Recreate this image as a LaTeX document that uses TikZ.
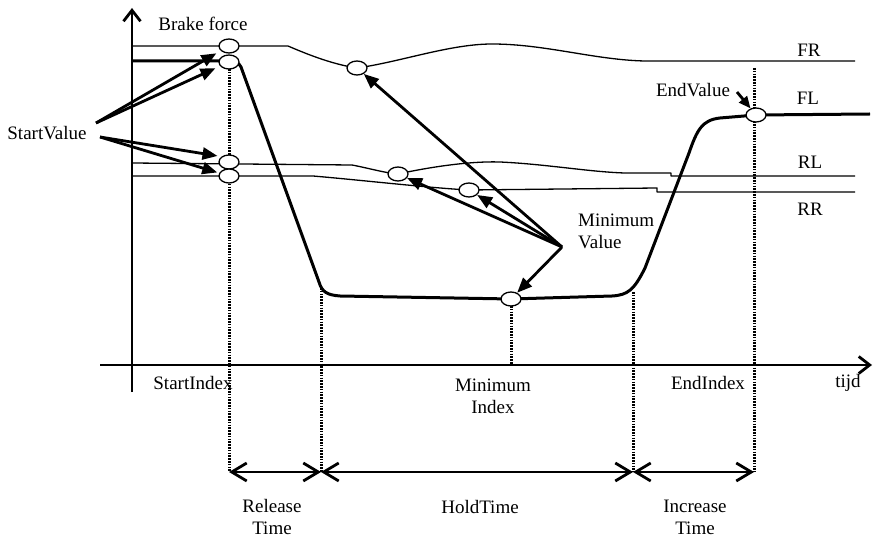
\documentclass[tikz,border=0pt]{standalone}
\usepackage{fontspec}
\setmainfont{Liberation Serif}
\usetikzlibrary{arrows.meta,shapes.geometric}
\begin{document}
\begin{tikzpicture}[x=1pt,y=-1pt,
  lbl/.style={font=\fontsize{19}{22}\selectfont, inner sep=0pt},
  thinline/.style={line width=1.3pt, line join=round},
  thickline/.style={line width=3pt, line join=round},
  axis/.style={line width=2.8pt, -{Straight Barb[length=11pt,width=17pt]}},
  guide/.style={line width=3pt, dash pattern=on 1.6pt off 1.2pt},
  span/.style={line width=2.8pt, {Straight Barb[length=15pt,width=18pt]}-{Straight Barb[length=15pt,width=18pt]}},
  pointer/.style={line width=2.8pt, -{Triangle[length=15pt,width=12pt]}},
  marker/.style={ellipse, draw, line width=1.3pt, fill=white, minimum width=20pt, minimum height=14pt, inner sep=0pt}
]
\path[use as bounding box, fill=white] (0,0) rectangle (873,537);

% axes
\coordinate (yb) at (132,392);
\coordinate (yt) at (132,8);
\coordinate (xl) at (100,365);
\coordinate (xr) at (872,365);
\draw[axis] (yb) -- (yt);
\draw[axis] (xl) -- (xr);

% FR
\draw[thinline] (132,46) -- (288,46) .. controls (302,52) and (330,64) .. (357,68)
  .. controls (400,62) and (450,44) .. (492,44) .. controls (545,44) and (595,60) .. (645,61) -- (855,61);
% RL
\draw[thinline] (132,163) -- (352,165) .. controls (368,168) and (385,173) .. (398,174)
  .. controls (430,167) and (470,161) .. (500,162) .. controls (545,164) and (590,172) .. (625,173)
  -- (671,173) -- (671,176) -- (855,176);
% RR
\draw[thinline] (132,176) -- (313,176) .. controls (360,180) and (430,188) .. (469,190)
  -- (657,188) -- (657,192) -- (855,192);
% FL
\draw[thickline] (132,61) -- (229,61) .. controls (236,61) and (239,63) .. (241,67) -- (319,282)
  .. controls (322,292) and (327,295) .. (340,296) -- (511,299) -- (612,296)
  .. controls (628,295) and (634,290) .. (645,268) -- (689,153)
  .. controls (697,130) and (702,120) .. (720,118) -- (756,115) -- (870,114);

% index guides
\coordinate (gS) at (229,472);
\coordinate (gR) at (321,472);
\coordinate (gM) at (511,365);
\coordinate (gH) at (633,472);
\coordinate (gE) at (754,472);
\draw[guide] (229,69) -- (gS);
\draw[guide] (321,288) -- (gR);
\draw[guide] (511,306) -- (gM);
\draw[guide] (633,292) -- (gH);
\draw[guide] (754,68) -- (gE);

% markers
\node[marker] (fr0) at (229,46) {};
\node[marker] (fl0) at (229,62) {};
\node[marker] (rl0) at (229,162) {};
\node[marker] (rr0) at (229,176) {};
\node[marker] (frm) at (357,68) {};
\node[marker] (rlm) at (398,174) {};
\node[marker] (rrm) at (469,190) {};
\node[marker] (flm) at (511,299) {};
\node[marker] (fle) at (756,115) {};

% spans
\draw[span] (gS) -- (gR);
\draw[span] (gR) -- (gH);
\draw[span] (gH) -- (gE);

% labels
\node[lbl] (brake) at (203,24) {Brake force};
\node[lbl] (sv) at (47,133) {StartValue};
\node[lbl] at (809,50) {FR};
\node[lbl] at (808,98) {FL};
\node[lbl] at (810,162) {RL};
\node[lbl] at (810,209) {RR};
\node[lbl] (ev) at (693,90) {EndValue};
\node[lbl, align=left, anchor=west] (mv) at (578,231) {Minimum\\Value};
\node[lbl] at (193,383) {StartIndex};
\node[lbl, align=center] at (493,396) {Minimum\\Index};
\node[lbl] at (708,383) {EndIndex};
\node[lbl] at (848,383) {tijd};
\node[lbl, align=center] at (272,517) {Release\\Time};
\node[lbl] at (480,507) {HoldTime};
\node[lbl, align=center] at (695,517) {Increase\\Time};

% pointers
\coordinate (svA) at (96,123);
\coordinate (svB) at (100,137);
\coordinate (mvP) at (562,247);
\coordinate (evP) at (737,92);
\draw[pointer, shorten >=5pt] (svA) -- (fr0);
\draw[pointer, shorten >=5pt] (svA) -- (fl0);
\draw[pointer, shorten >=4pt] (svB) -- (rl0.north west);
\draw[pointer, shorten >=2pt] (svB) -- (rr0);
\draw[pointer] (mvP) -- (frm);
\draw[pointer] (mvP) -- (rlm);
\draw[pointer] (mvP) -- (rrm);
\draw[pointer] (mvP) -- (flm);
\draw[pointer, -{Triangle[length=12pt,width=10pt]}] (evP) -- (fle);
\end{tikzpicture}
\end{document}
